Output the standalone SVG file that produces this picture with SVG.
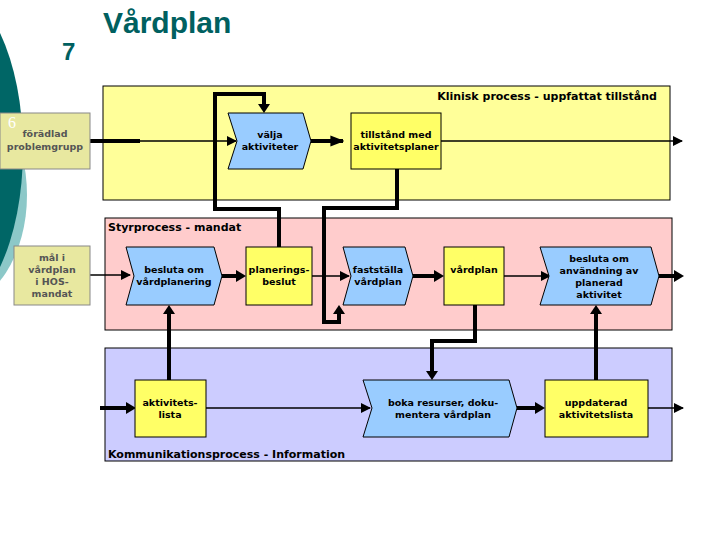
<svg xmlns="http://www.w3.org/2000/svg" width="720" height="540" viewBox="0 0 720 540">
<defs>
<style>
.t{font-family:"DejaVu Sans",Verdana,sans-serif;font-weight:bold;font-size:9.5px;fill:#000;text-anchor:middle}
.lab{font-family:"DejaVu Sans",Verdana,sans-serif;font-weight:bold;font-size:11px;fill:#000}
.box{fill:#ffff66;stroke:#000;stroke-width:1}
.ext{fill:#e8e8a0;stroke:#888;stroke-width:1}
.chev{fill:#99ccff;stroke:#000;stroke-width:1}
.thick{fill:none;stroke:#000;stroke-width:4}
.thin{fill:none;stroke:#000;stroke-width:1.3}
</style>
<marker id="a" viewBox="0 0 10 10" refX="9" refY="5" markerWidth="10" markerHeight="10" markerUnits="userSpaceOnUse" orient="auto"><path d="M0,0L10,5L0,10z"/></marker>
<marker id="b" viewBox="0 0 10 10" refX="9" refY="5" markerWidth="14" markerHeight="14" markerUnits="userSpaceOnUse" orient="auto"><path d="M0,1L10,5L0,9z"/></marker>
</defs>
<rect width="720" height="540" fill="#fff"/>
<ellipse cx="-45" cy="195" rx="72" ry="110" fill="#8cc8c8"/>
<ellipse cx="-55" cy="150" rx="78" ry="165" fill="#006666"/>
<text x="103" y="33" font-family="Liberation Sans,Arial,sans-serif" font-weight="bold" font-size="30" fill="#006060">Vårdplan</text>
<text x="62" y="60" font-family="Liberation Sans,Arial,sans-serif" font-weight="bold" font-size="24" fill="#006060">7</text>
<g id="lanes">
<rect x="103" y="86" width="567" height="114" fill="#ffff99" stroke="#000"/>
<rect x="105" y="218" width="567" height="112" fill="#ffcccc" stroke="#000"/>
<rect x="105" y="348" width="567" height="113" fill="#ccccff" stroke="#000"/>
<text class="lab" x="657" y="100" text-anchor="end">Klinisk process - uppfattat tillstånd</text>
<text class="lab" x="108" y="231">Styrprocess - mandat</text>
<text class="lab" x="108" y="458">Kommunikationsprocess - Information</text>
</g>
<g id="connectors">
<path class="thick" d="M90,141H140"/><path class="thin" d="M140,141H236" marker-end="url(#a)"/>
<path class="thick" d="M311,141H343" marker-end="url(#b)"/>
<path class="thin" d="M441,141H682" marker-end="url(#a)"/>
<path class="thick" d="M279,247V209H215V94H264V107" /><path d="M258,104L264,113L270,104z"/>
<path class="thick" d="M397,169V208H324V322H339V313"/><path d="M333,314L339,305L345,314z"/>
<path class="thin" d="M90,275H130" marker-end="url(#a)"/>
<path class="thick" d="M222,276H239"/><path d="M236,270L246,276L236,282z"/>
<path class="thin" d="M312,276H349" marker-end="url(#a)"/>
<path class="thick" d="M413,276H436"/><path d="M434,270L444,276L434,282z"/>
<path class="thin" d="M504,276H550" marker-end="url(#a)"/>
<path class="thick" d="M659,276H676"/><path d="M674,270L684,276L674,282z"/>
<path class="thick" d="M169,380V313"/><path d="M163,314L169,305L175,314z"/>
<path class="thick" d="M475,305V341H432V372"/><path d="M426,371L432,380L438,371z"/>
<path class="thick" d="M596,380V313"/><path d="M590,314L596,305L602,314z"/>
<path class="thick" d="M100,408H127"/><path d="M126,402L136,408L126,414z"/>
<path class="thin" d="M206,408H370" marker-end="url(#a)"/>
<path class="thick" d="M517,408H537"/><path d="M535,402L545,408L535,414z"/>
<path class="thin" d="M648,408H683" marker-end="url(#a)"/>
</g>
<g id="n-foradlad"><rect class="ext" x="0" y="113" width="90" height="56"/><text x="8" y="128" font-family="Liberation Serif,serif" font-size="16" fill="#fff">6</text><text class="t" x="45" y="137" fill="#555" style="fill:#555">förädlad</text><text class="t" x="45" y="150" style="fill:#555">problemgrupp</text></g>
<g id="n-valja"><path class="chev" d="M228,113H303L311,141L303,169H228L237,141z"/><text class="t" x="270" y="138">välja</text><text class="t" x="270" y="150">aktiviteter</text></g>
<g id="n-tillstand"><rect class="box" x="351" y="113" width="90" height="56"/><text class="t" x="396" y="138">tillstånd med</text><text class="t" x="396" y="150">aktivitetsplaner</text></g>
<g id="n-mal"><rect class="ext" x="14" y="246" width="76" height="59"/><text class="t" x="52" y="261" style="fill:#555">mål i</text><text class="t" x="52" y="273" style="fill:#555">vårdplan</text><text class="t" x="52" y="285" style="fill:#555">i HOS-</text><text class="t" x="52" y="297" style="fill:#555">mandat</text></g>
<g id="n-besluta1"><path class="chev" d="M126,247H214L222,276L214,305H126L134,276z"/><text class="t" x="174" y="273">besluta om</text><text class="t" x="174" y="285">vårdplanering</text></g>
<g id="n-planerings"><rect class="box" x="246" y="247" width="66" height="58"/><text class="t" x="279" y="273">planerings-</text><text class="t" x="279" y="285">beslut</text></g>
<g id="n-faststalla"><path class="chev" d="M343,247H405L413,276L405,305H343L351,276z"/><text class="t" x="378" y="273">fastställa</text><text class="t" x="378" y="285">vårdplan</text></g>
<g id="n-vardplan"><rect class="box" x="444" y="247" width="60" height="58"/><text class="t" x="474" y="273">vårdplan</text></g>
<g id="n-besluta2"><path class="chev" d="M540,247H651L659,276L651,305H540L549,276z"/><text class="t" x="599" y="262">besluta om</text><text class="t" x="599" y="274">användning av</text><text class="t" x="599" y="286">planerad</text><text class="t" x="599" y="298">aktivitet</text></g>
<g id="n-aktlista"><rect class="box" x="135" y="380" width="71" height="57"/><text class="t" x="170" y="406">aktivitets-</text><text class="t" x="170" y="418">lista</text></g>
<g id="n-boka"><path class="chev" d="M363,380H509L517,408L509,437H363L372,408z"/><text class="t" x="443" y="406">boka resurser, doku-</text><text class="t" x="443" y="418">mentera vårdplan</text></g>
<g id="n-uppdaterad"><rect class="box" x="545" y="380" width="103" height="57"/><text class="t" x="596" y="406">uppdaterad</text><text class="t" x="596" y="418">aktivitetslista</text></g>
</svg>
